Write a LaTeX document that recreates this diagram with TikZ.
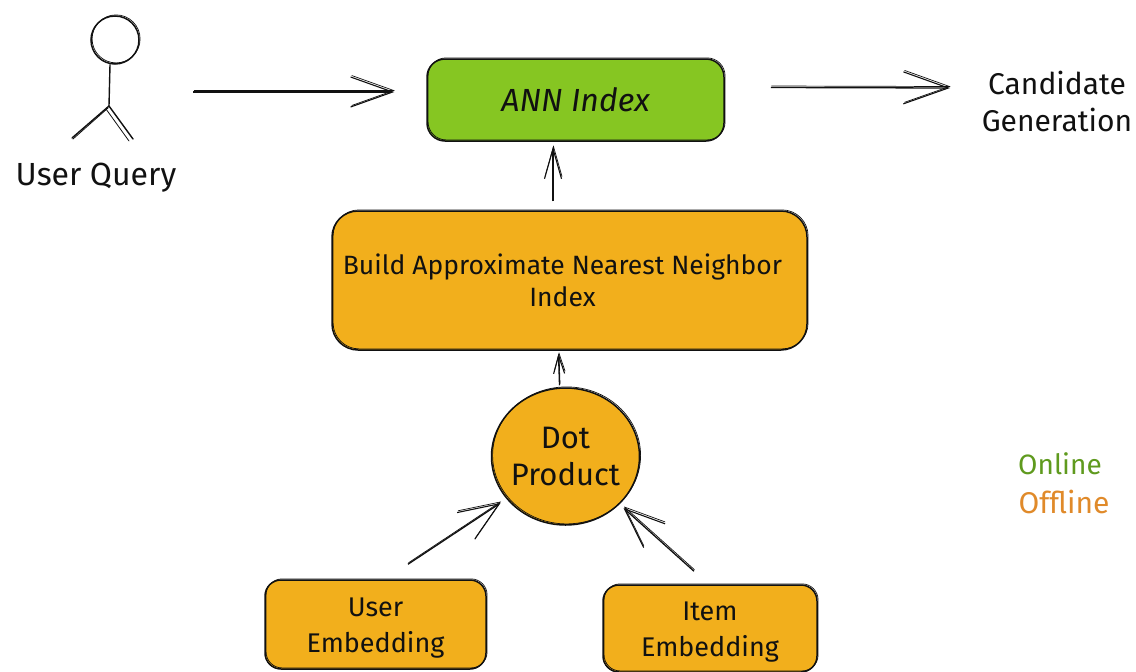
\documentclass[tikz,border=0pt]{standalone}
\usepackage{fontspec}
\setmainfont{Fira Sans}
\usetikzlibrary{arrows.meta,calc,shapes.geometric}
\definecolor{grn}{HTML}{86C622}
\definecolor{org}{HTML}{F2AF1C}
\definecolor{onl}{HTML}{5F9A1E}
\definecolor{ofl}{HTML}{E08A2A}
\definecolor{ink}{HTML}{111111}
\tikzset{
  sketch/.style={draw=ink,line width=1.5pt,postaction={draw=ink,line width=.7pt,transform canvas={shift={(1.1pt,1.1pt)}}}},
  boxnode/.style={sketch,rectangle,rounded corners=#1,align=center,inner sep=0pt,text=ink},
  boxnode/.default=20pt,
  rnd/.style={sketch,ellipse,fill=org,align=center,inner xsep=-3pt,inner ysep=0pt,minimum width=148pt,minimum height=137pt,text=ink},
  lbl/.style={align=center,inner sep=0pt,text=ink},
  conn/.style 2 args={draw=ink,line width=1.3pt,-{Straight Barb[length=#1,width=#2,line width=1.1pt]},
    preaction={draw=ink,line width=.7pt,transform canvas={shift={(.5pt,1.5pt)}},-{Straight Barb[length=#1,width=#2,line width=.7pt]}}},
  limb/.style={draw=ink,line width=1.4pt,line cap=round},
  limbb/.style={draw=ink,line width=.8pt,line cap=round}
}
\begin{document}
\begin{tikzpicture}[x=1pt,y=-1pt]
\useasboundingbox (0,0) rectangle (1136,672);
% person
\node[sketch,circle,minimum size=48pt,inner sep=0pt] (head) at (115,40) {};
\coordinate (hip) at (109,106);
\coordinate (lfoot) at (72,138);
\coordinate (rfoot) at (133,139);
\draw[limb] (head.south) ++(-5pt,0pt) -- (hip);
\draw[limb] (hip) -- (lfoot);
\draw[limbb] (hip) ++(-1,2) -- ($(lfoot)+(1,1)$);
\draw[limb] (hip) -- (rfoot);
\draw[limbb] (hip) ++(-3,3) -- ($(rfoot)+(-4,2)$);
\node[lbl,font=\fontsize{32}{37}\selectfont] (uq) at (96,178) {User Query};
% boxes
\node[boxnode=18pt,fill=grn,minimum width=297pt,minimum height=82pt,font=\fontsize{32}{37}\selectfont] (ann) at (575.5,100) {\itshape ANN Index};
\node[boxnode=26pt,fill=org,minimum width=475pt,minimum height=139pt,font=\fontsize{26.5}{32}\selectfont] (build) at (569.5,280.5) {Build Approximate Nearest Neighbor\hspace*{14pt}\\Index\hspace*{14pt}};
\node[rnd,font=\fontsize{31}{37}\selectfont] (dot) at (565.5,456.5) {Dot\\Product};
\node[boxnode=16pt,fill=org,minimum width=221pt,minimum height=89pt,font=\fontsize{27}{36}\selectfont] (ue) at (375.5,624.5) {\rule{0pt}{26pt}User\\Embedding};
\node[boxnode=16pt,fill=org,minimum width=214pt,minimum height=87pt,font=\fontsize{27}{36}\selectfont] (ie) at (710,628.5) {\rule{0pt}{26pt}Item\\Embedding};
% labels
\node[lbl,font=\fontsize{30}{37}\selectfont] (cg) at (1057,101.5) {Candidate\\Generation};
\node[lbl,font=\fontsize{28}{37}\selectfont,text=onl] (on) at (1060,464) {Online};
\node[lbl,font=\fontsize{30}{37}\selectfont,text=ofl] (off) at (1064,502) {Offline};
% connectors
\path[conn={42pt}{30pt}] ($(head.center)+(78,52)$) -- ($(ann.west)+(-32,-8)$);
\path[conn={45pt}{32pt}] ($(ann.east)+(46,-12.5)$) -- ($(cg.center)+(-107,-13.5)$);
\path[conn={30pt}{17pt}] ($(build.north)+(-16.5,-9)$) -- ($(ann.south)+(-22.5,5)$);
\path[conn={18pt}{11pt}] ($(dot.north)+(-6,-2)$) -- ($(build.south)+(-11,3)$);
\path[conn={40pt}{32pt}] ($(ue.north)+(32.5,-15)$) -- ($(dot.center)+(-65,46.5)$);
\path[conn={40pt}{32pt}] ($(ie.north)+(-16,-13)$) -- ($(dot.center)+(58,51.5)$);
\end{tikzpicture}
\end{document}
